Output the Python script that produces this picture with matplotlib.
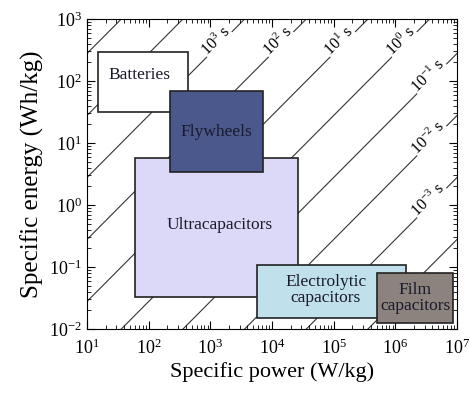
import numpy as np
import matplotlib
matplotlib.use("Agg")
import matplotlib.pyplot as plt
from matplotlib.patches import Rectangle
from matplotlib.ticker import LogLocator

plt.rcParams['font.family'] = ['Liberation Serif', 'DejaVu Serif']
plt.rcParams['mathtext.fontset'] = 'custom'
plt.rcParams['mathtext.rm'] = 'Liberation Serif'
plt.rcParams['mathtext.it'] = 'Liberation Serif:italic'

# storage technologies: power range (W/kg), energy range (Wh/kg)
names = ["Batteries", "Ultracapacitors", "Flywheels",
         "Electrolytic\ncapacitors", "Film\ncapacitors"]
p_low = [15, 60, 222, 5700, 5.0e5]
p_high = [434, 26400, 7140, 1.48e6, 8.6e6]
e_low = [31.6, 0.033, 3.4, 0.015, 0.0125]
e_high = [294, 5.7, 69, 0.108, 0.08]
colors = ["#ffffff", "#dcd8f8", "#4a588c", "#c0e0ec", "#8c827e"]
text_x = [72, 1435, 1230, 75000, 2.1e6]
text_y = [125, 0.48, 15, 0.0426, 0.0316]

# discharge time lines, exponent of seconds
time_exp = [5, 4, 3, 2, 1, 0, -1, -2, -3, -4]
label_top = [3, 2, 1, 0]
label_right = [-1, -2, -3]

fig = plt.figure(figsize=(4.69, 3.96), dpi=100)
ax = fig.add_axes([87/469, 1-329/396, 370/469, 310/396])
ax.set_xscale('log')
ax.set_yscale('log')
ax.set_xlim(1e1, 1e7)
ax.set_ylim(1e-2, 1e3)
ax.xaxis.set_major_locator(LogLocator(base=10, numticks=12))
ax.yaxis.set_major_locator(LogLocator(base=10, numticks=12))
ax.xaxis.set_minor_locator(LogLocator(base=10, subs=np.arange(2, 10), numticks=12))
ax.yaxis.set_minor_locator(LogLocator(base=10, subs=np.arange(2, 10), numticks=12))

P = np.logspace(0, 8, 50)
for n in time_exp:
    ax.plot(P, P * 10.0**n / 3600, color='#333333', lw=0.8, zorder=1)

for n in label_top:
    E = 10**2.6
    ax.text(E * 3600 / 10.0**n / 1.15, E * 1.1, r'$10^{%d}$ s' % n, rotation=45,
            ha='center', va='center', fontsize=11.5, zorder=2,
            bbox=dict(facecolor='white', edgecolor='none', pad=0.5))
for n in label_right:
    Pp = 10**6.6
    ax.text(Pp / 1.15, Pp * 10.0**n / 3600 * 1.1, r'$10^{%d}$ s' % n, rotation=45,
            ha='center', va='center', fontsize=11.5, zorder=2,
            bbox=dict(facecolor='white', edgecolor='none', pad=0.5))

for i in range(len(names)):
    ax.add_patch(Rectangle((p_low[i], e_low[i]), p_high[i] - p_low[i],
                           e_high[i] - e_low[i], facecolor=colors[i],
                           edgecolor='#222222', lw=1.2, zorder=3 + i))
    ax.text(text_x[i], text_y[i], names[i], ha='center', va='center',
            fontsize=12.5, color='#1a1a2a', linespacing=1.05, zorder=10)

ax.tick_params(which='both', direction='in', top=True, right=True,
               labelsize=13)
ax.tick_params(axis='x', which='major', pad=7)
ax.tick_params(which='major', length=6)
ax.tick_params(which='minor', length=3)
ax.set_xlabel("Specific power (W/kg)", fontsize=16, labelpad=3)
ax.set_ylabel("Specific energy (Wh/kg)", fontsize=18, labelpad=4)

fig.savefig("out.png", dpi=100)
